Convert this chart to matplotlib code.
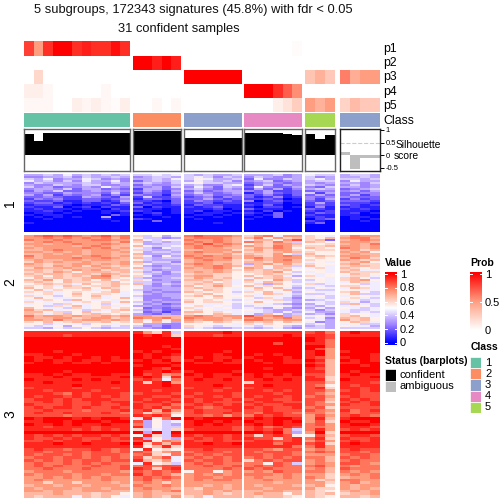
import numpy as np
import matplotlib
matplotlib.use("Agg")
import matplotlib.pyplot as plt
from matplotlib.colors import LinearSegmentedColormap

plt.rcParams['font.family'] = ['Liberation Sans', 'DejaVu Sans']

W = 504.0

title1 = "5 subgroups, 172343 signatures (45.8%) with fdr < 0.05"
title2 = "31 confident samples"

# samples per subgroup column block, the last one is the ambiguous block
group_sizes = [11, 5, 6, 6, 3, 4]
group_class = [1, 2, 3, 4, 5, 3]
class_colors = ["#66C2A5", "#FC8D62", "#8DA0CB", "#E78AC3", "#A6D854"]

p1 = [.8, .5, .85, 1, 1, .85, .9, .85, .85, .95, .85, 0, 0, 0, 0, 0, 0, 0, 0, 0, 0, 0, 0, 0, 0, 0, 0, .02, 0, 0, 0, 0, 0, 0, 0]
p2 = [0, 0, 0, 0, 0, 0, 0, 0, 0, 0, 0, 1, 1, .9, 1, .9, 0, 0, 0, 0, 0, 0, 0, 0, 0, 0, 0, 0, 0, 0, 0, 0, 0, 0, 0]
p3 = [0, .2, 0, 0, 0, 0, 0, 0, 0, 0, 0, 0, 0, 0, 0, 0, 1, 1, 1, 1, 1, 1, 0, 0, 0, 0, 0, 0, .3, .4, .28, .6, .42, .5, .5]
p4 = [.08, .08, .04, 0, 0, 0, 0, 0, .04, 0, 0, 0, 0, 0, 0, 0, 0, 0, 0, 0, 0, 0, 1, 1, 1, .85, .7, .55, 0, 0, 0, 0, 0, 0, 0]
p5 = [.04, .04, .04, 0, 0, .08, .05, .08, .04, .02, .08, 0, 0, .04, 0, .04, 0, 0, 0, 0, 0, 0, 0, 0, 0, .08, .15, .25, .5, .4, .5, .22, .35, .28, .28]

silhouette = [.85, .56, .88, .88, .88, .88, .88, .88, .88, .88, .88,
              .96, .96, .96, .96, .96,
              .68, .68, .68, .68, .68, .68,
              .88, .88, .88, .87, .85, .82,
              .84, .64, .8,
              .12, -.55, -.12, -.12]
confident = [1] * 31 + [0] * 4

# heatmap values, one hex digit per sample, 0 = 0.0 and f = 1.0
block1 = [
    "55657565656 66767 656556 555645 766 5665",
    "44556465565 45665 676465 465445 645 5565",
    "65745576454 55657 687556 374465 675 6656",
    "75646475574 35656 576564 456345 566 4755",
    "46555565465 56546 786655 345434 545 5546",
    "54465466445 35445 564467 246354 654 4645",
    "64534454754 44536 475365 374335 436 5545",
    "45546355343 25534 564354 253524 565 3456",
    "35463345454 35425 353455 435223 344 4535",
    "44335444363 24324 464345 135323 625 3344",
    "53524345242 43315 345334 324213 353 3524",
    "33432254325 26224 234243 312412 434 4333",
    "24342233234 13323 335323 223201 425 2423",
    "32231133125 22103 243232 402311 323 3332",
    "23312121213 31213 223122 112201 252 2221",
    "12221011132 12112 132211 213100 232 3212",
    "21130120211 30211 212311 102201 141 1211",
    "12111011021 11101 111201 311100 321 2121",
    "11210100112 21001 120110 102010 212 1110",
    "01101000101 01201 101101 210300 132 1201",
    "10110000031 10100 011010 101300 211 1100",
    "01010100500 00010 100100 010300 121 0110",
    "00100000100 21000 010000 100000 023 0101",
    "00000000010 00300 000000 000000 210 0010",
    "10000000000 00000 000100 000000 130 0000",
    "00000000000 00000 000000 000000 000 0000",
    "00000000000 00000 000000 000000 000 0000",
    "00000000000 00000 000000 000000 000 0000",
    "00000000000 00000 000000 000000 000 0000",
]

block2 = [
    "bcdcdcbcdbc 96857 cdcccb 9bc7bb 987 acbb",
    "bbcbcbcbcac 86645 bcccba ac8b9a 98a bcca",
    "cbbcbbbccbb a7687 cbbcba 7aa8bd 9a3 abcb",
    "abcbcbbbbac 95656 bcbcba cb9ca6 a98 bbba",
    "bbabbcbbcba 85566 cbdbcb 8a9bba 889 abac",
    "abbbbabcbaa a7667 bcbcba ba9cb9 99a bbab",
    "babbbbcbcab 76476 bcbbaa 9bacb8 a98 cbab",
    "aabcbbabbba 96556 aabbb9 ab9bb9 899 ab9a",
    "bbabababbab 85665 bcbbab 9a9aba 988 bab8",
    "aababbabbaa a5556 bbaab9 a99b86 a88 abaa",
    "cabbbabcbab 97485 cbcbba ba9bcb 9a9 bbba",
    "babbbcbbcba a6566 bcbbca bcabbb 898 acb9",
    "abaabbabbaa 86555 abcbb9 9babca 988 ba9a",
    "9babaabaaab a5664 abbaa9 aa9bba 787 9ab8",
    "ba9aabbabab 97556 bcbab9 5ab9b9 988 ab99",
    "aa9bab9ba9a 85455 abbcba 9a8aa6 a87 9aa9",
    "9baabaaaba9 a6565 babcb8 ba7a97 797 a989",
    "aa9a9bab9aa 76455 aaaba9 a9a9a8 887 9a77",
    "9a9ba8aaa9a 95646 ababa8 99ab86 787 a999",
    "a9aa9aa9ba9 86545 9aa998 89a997 878 8a98",
    "9a8a9a9bc9a 97455 abb998 a89a75 978 7997",
    "8a9a99abb98 65556 9ba9a8 7a9a98 887 9a86",
    "a9b8a9a8a79 97455 aa9a97 a88b96 687 9ab8",
    "9a98a9999a8 66554 99a897 97a986 787 7a97",
    "89a997a89a9 a6465 9a9a97 895a87 967 8867",
    "9897a9899a8 75454 a89b98 a79886 776 9987",
    "a89899a8a98 85555 9a9987 8a8a75 687 7a97",
    "8a7988978a8 65455 98a987 7988a6 766 8877",
    "989789889a7 74544 a98986 98a785 877 9a86",
    "78978a89987 85455 89a887 87a976 667 8a66",
    "9786898a787 64455 9a8a88 978775 786 7887",
    "8a87788978a 74445 888987 869764 776 8976",
    "77986a87878 84544 989876 787965 567 7867",
    "9878779897a 65455 a89987 8a8875 776 9757",
    "78769878687 74534 787786 787654 576 6a76",
    "88697a78978 55445 897876 677875 657 7786",
    "a8776978989 83434 978786 765754 575 8767",
    "b9a7886979a 64533 898777 876556 646 7667",
    "aa8968a7898 73424 aa8987 776575 755 7676",
    "a979a89a989 54354 988a97 75a856 564 9887",
    "cabbabaabab bbaaa bcbabb dbbc5a 786 9a87",
    "baabb9abb9a cbbca cbbbab bcabca 674 a9a8",
    "bbacaabbaba a7b8b babba9 ccbabb 875 b9a8",
    "98a89a99a89 a8a75 a98a98 a9a8a9 745 8a97",
    "88678768878 85544 888787 979887 675 7866",
    "76785878676 64534 987677 767865 565 8775",
    "66576686566 55434 676556 656754 665 6666",
]

block3 = [
    "eeeeeeeeeee eb9e6 eeeefe eeeeee dec efee",
    "eeeedeeeeee fefe9 eeedee eeeefe eed eeee",
    "fffffffffff fffff ffffff ffffff fed ffff",
    "fffffffffff fffff ffffff ffffff fec ffff",
    "fffffffffff fffff ffffff fffdff eec ffff",
    "fffffffffff fffef ffffff ffffff ffc ffff",
    "fffffffffff ffffe ffffff ffffff fdb ffff",
    "fffefffffff efeff ffffef ffffff efb efff",
    "eefffefffff feffe fffeff fefeff efb fffe",
    "feefeffefef fefed fefeef efffef edb effe",
    "fefeefeefee efefd effefe feffee fea fefe",
    "effefeefeff ffeef feefee ffefee eda eeff",
    "fffffffffff efffe ffffff ffffff fea ffef",
    "fffffffffff ffedf ffffff ffefff eda ffff",
    "ffffeffffff feefe effffe ffffff eea feff",
    "eefefeeffee fdebc fefeef efefef dda efee",
    "eeefeeeeeef efe9e eefeee efeeee ed9 eeef",
    "feeeefefeee ded7c efeefe eefefe ee9 feee",
    "eefeeeeeefe e9efb eeeeee 9eeeee dda eeed",
    "eeeeefeeeee eeefe eeefee eefeee dc8 edee",
    "deeeedeeede eeeee deeede deeeee de9 eede",
    "eedeeeedeee eedee eeedee eedede ddb dede",
    "eeedcedeeed deeed edeeed eeedee dca eedd",
    "edeedededed eedde deeded edeede cdb dedd",
    "deededeeedd edeed edeede deedde dda eded",
    "ddededdedee deede ededdd edeedd dc9 dede",
    "edddeddedde eddec dedede deddee dcb edde",
    "dedeededded edecd edcdee ededde cd9 dddd",
    "ddedddcddde deaeb deddde ddeddd dcb ecde",
    "deddedddedc d9bc9 dedded dceedc cca dcdd",
    "ddddcdddddd eded8 ddcdbd cededd bdb dedc",
    "fefffefeffe 7e8cf feffff efeffe bea efff",
    "eeffefffeff d5867 effefe feefef bd9 feef",
    "feefefeefee c5865 efefee efefee cdb effe",
    "eedeeeedeee e5866 eeeeed decded ccb eeed",
    "eeeeededede 96769 deeeed dedec6 ceb dede",
    "fffffffffff f5f6f ffffff ffefc5 bf9 ffff",
    "edededeeded 8e96e edeede d9ded8 8da deed",
    "eddededdede e5865 dedede edd9de ce9 edde",
    "ddedeedeedd de8cb eddedd deedde bdb dede",
    "eeefeefeeef f9dad eefeef eeecee de9 efee",
    "eeeeeeeeeee e8ae9 eeeeee eeeeec ceb eeee",
    "deddcddedcd 8e898 ddeddd ddcbdd bcb dedd",
    "ddcdddcddcd dc9bc cdddcd dcdddc cdc ddcd",
    "dcddcdcdddc cd97c dcdcdd ddcddc bbb cddc",
    "cddcddcdcdc d9bd7 cdcdcd cdcdcd cca dcdc",
    "dcdcdcddcdd ea9b7 dcddcd 9cdcdd bca cdcc",
    "cdccdcdcdcc 7e896 cdcdcc cc8dc6 bcb ddcb",
    "cdcdcccdccd cdcdd ccdccd cdcdcc cdb cbcc",
    "ccdcccdcccd ed9de ccccdc dcdccc bca dccc",
    "bcccbcccccb dcdcd 8cc8bc bcbdcc cca cbcb",
    "cbcccbccbcc ecdca bcbcbc cccbcb bb9 bcbc",
    "bbcbcbcbcbb cdcdc bccbcc bcbbcb cb9 abbc",
    "bcbbbbbbcbb cdbcb bcbccb bbcbbb b9a ccbb",
    "bb9bb9bbbab bcb9b bbbbbb bbbabb bb9 bcab",
    "abbabbabbba cbbcb bbabab babbba ab8 babb",
    "babbbabbabb bcbba a9bbab bbabbb b99 baba",
    "bbabaabbbaa bbabc aababa aabbaa a98 abab",
    "aaabaaa9aa8 abaaa aaba9a abaa8a a9a 9aab",
    "a9aaa7a9a87 aba9b 9a7aaa a9aa98 a98 aa9a",
]

# colours picked off the Value legend
value_cmap = LinearSegmentedColormap.from_list(
    "value", [(0, "#0000ff"), (.25, "#9b7dff"), (.5, "#ffffff"), (.75, "#ff9474"), (1, "#ff0000")])
prob_cmap = LinearSegmentedColormap.from_list(
    "prob", [(0, "#ffffff"), (.5, "#ff9e81"), (1, "#ff0000")])


def px_axes(fig, x0, y0, x1, y1):
    # pixel box with y going down, like the picture
    ax = fig.add_axes([x0 / W, 1 - y1 / W, (x1 - x0) / W, (y1 - y0) / W])
    return ax


def px_text(fig, x, y, s, **kw):
    kw.setdefault("va", "center")
    fig.text(x / W, 1 - y / W, s, **kw)


def parse_block(rows):
    return np.array([[int(c, 16) / 15 for c in r.replace(" ", "")] for r in rows])


def clean(ax):
    ax.set_xticks([])
    ax.set_yticks([])
    for s in ax.spines.values():
        s.set_visible(False)


def main():
    fig = plt.figure(figsize=(5.04, 5.04), dpi=100)

    px_text(fig, 193, 10, title1, fontsize=9.3, ha="center", color="#111111")
    px_text(fig, 179, 29, title2, fontsize=9.3, ha="center", color="#111111")

    panels = [(24, 130), (133, 181), (184, 242), (244, 302), (305, 334.5), (340, 380)]
    tracks = [p1, p2, p3, p4, p5]
    track_y = [(41, 56), (56, 70), (70, 84), (84, 98), (98, 112)]
    track_names = ["p1", "p2", "p3", "p4", "p5"]
    name_y = [49, 63, 77, 92, 106]
    blocks = [(block1, 174, 232), (block2, 235, 329), (block3, 331, 498)]
    block_labels = [("1", 203), ("2", 282), ("3", 414)]

    start = 0
    for i, n in enumerate(group_sizes):
        x0, x1 = panels[i]
        stop = start + n

        for vals, (y0, y1) in zip(tracks, track_y):
            ax = px_axes(fig, x0, y0, x1, y1)
            ax.imshow([vals[start:stop]], cmap=prob_cmap, vmin=0, vmax=1, aspect="auto", interpolation="nearest")
            clean(ax)

        ax = px_axes(fig, x0, 113, x1, 127)
        ax.set_facecolor(class_colors[group_class[i] - 1])
        clean(ax)

        ax = px_axes(fig, x0, 128.5, x1, 171)
        ax.axhline(0.5, color="#cccccc", lw=0.8, ls="--", zorder=1)
        xs = np.arange(n)
        cols = ["black" if c else "#bebebe" for c in confident[start:stop]]
        ax.bar(xs, silhouette[start:stop], width=1, color=cols, zorder=2)
        ax.set_xlim(-.5, n - .5)
        ax.set_ylim(-.64, 1.06)
        ax.set_xticks([])
        ax.set_yticks([])
        for s in ax.spines.values():
            s.set_color("#222222" if i == 5 else "#666666")
            s.set_linewidth(1)
        if i == 5:
            ax.yaxis.tick_right()
            ax.set_yticks([-.5, 0, .5, 1])
            ax.set_yticklabels(["-0.5", "0", "0.5", "1"], fontsize=5.5)
            ax.tick_params(axis="y", length=3, width=.7, pad=1)

        for rows, y0, y1 in blocks:
            m = parse_block(rows)[:, start:stop]
            ax = px_axes(fig, x0, y0, x1, y1)
            ax.imshow(m, cmap=value_cmap, vmin=0, vmax=1, aspect="auto", interpolation="nearest")
            clean(ax)

        start = stop

    for name, y in zip(track_names, name_y):
        px_text(fig, 383, y, name, fontsize=8.8)
    px_text(fig, 383, 121, "Class", fontsize=8.8)
    px_text(fig, 396, 145, "Silhouette", fontsize=7.4)
    px_text(fig, 394, 156, "score", fontsize=7.4)

    for lab, y in block_labels:
        px_text(fig, 10, y, lab, fontsize=10, rotation=90, ha="center")

    # Value colour bar
    ax = px_axes(fig, 385, 272, 397, 345)
    ax.imshow(np.linspace(1.03, -.03, 100).reshape(-1, 1), cmap=value_cmap, vmin=0, vmax=1,
              aspect="auto", extent=[0, 1, -.03, 1.03])
    clean(ax)
    for v in [0, .2, .4, .6, .8, 1]:
        ax.plot([0, .2], [v, v], color="white", lw=.7)
        ax.plot([.8, 1], [v, v], color="white", lw=.7)
        px_text(fig, 400, 343.5 - v * 69, "%g" % v, fontsize=8)
    ax.set_xlim(0, 1)
    ax.set_ylim(-.03, 1.03)
    px_text(fig, 385, 263, "Value", fontsize=7.5, fontweight="bold")

    # Prob colour bar
    ax = px_axes(fig, 470, 272, 482, 332)
    ax.imshow(np.linspace(1.03, -.03, 100).reshape(-1, 1), cmap=prob_cmap, vmin=0, vmax=1,
              aspect="auto", extent=[0, 1, -.03, 1.03])
    clean(ax)
    for v in [0, .5, 1]:
        ax.plot([0, .2], [v, v], color="white", lw=.7)
        ax.plot([.8, 1], [v, v], color="white", lw=.7)
        px_text(fig, 485, 330.5 - v * 56, "%g" % v, fontsize=8)
    ax.set_xlim(0, 1)
    ax.set_ylim(-.03, 1.03)
    px_text(fig, 470, 263, "Prob", fontsize=7.5, fontweight="bold")

    # Class legend
    px_text(fig, 471, 347, "Class", fontsize=7.5, fontweight="bold")
    for i, c in enumerate(class_colors):
        y0 = 357 + i * 11.2
        ax = px_axes(fig, 470, y0, 481, y0 + 11.2)
        ax.set_facecolor(c)
        ax.set_xticks([])
        ax.set_yticks([])
        for s in ax.spines.values():
            s.set_color("white")
            s.set_linewidth(.6)
        px_text(fig, 485, y0 + 5.6, str(i + 1), fontsize=8)

    # Status legend
    px_text(fig, 385, 361, "Status (barplots)", fontsize=7.5, fontweight="bold")
    for i, (c, lab) in enumerate([("black", "confident"), ("#bebebe", "ambiguous")]):
        y0 = 369 + i * 11.5
        ax = px_axes(fig, 385, y0, 396, y0 + 11.5)
        ax.set_facecolor(c)
        ax.set_xticks([])
        ax.set_yticks([])
        for s in ax.spines.values():
            s.set_color("white")
            s.set_linewidth(.6)
        px_text(fig, 400, y0 + 5.7, lab, fontsize=8)

    fig.savefig("out.png", dpi=100)


if __name__ == "__main__":
    main()
